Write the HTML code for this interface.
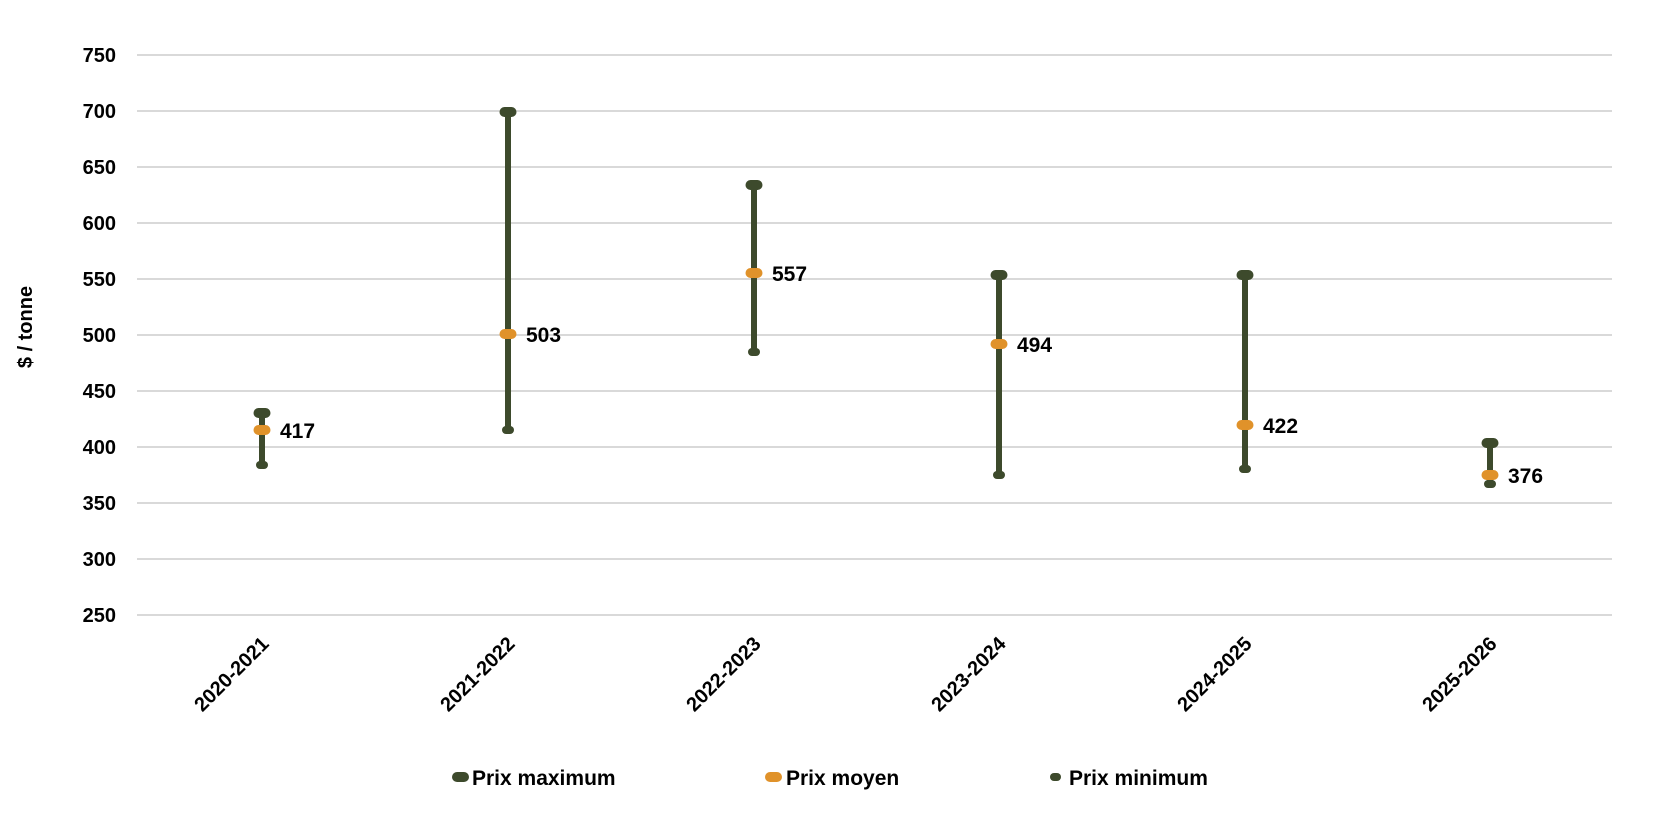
<!DOCTYPE html>
<html><head><meta charset="utf-8"><style>
html,body{margin:0;padding:0;background:#fff;}
svg{display:block;}
text{font-family:"Liberation Sans",sans-serif;font-weight:bold;fill:#000;}
</style></head><body>
<svg width="1654" height="822" viewBox="0 0 1654 822" xmlns="http://www.w3.org/2000/svg">
<g stroke="#d9d9d9" stroke-width="2">
<line x1="137" x2="1612" y1="55" y2="55"/>
<line x1="137" x2="1612" y1="111" y2="111"/>
<line x1="137" x2="1612" y1="167" y2="167"/>
<line x1="137" x2="1612" y1="223" y2="223"/>
<line x1="137" x2="1612" y1="279" y2="279"/>
<line x1="137" x2="1612" y1="335" y2="335"/>
<line x1="137" x2="1612" y1="391" y2="391"/>
<line x1="137" x2="1612" y1="447" y2="447"/>
<line x1="137" x2="1612" y1="503" y2="503"/>
<line x1="137" x2="1612" y1="559" y2="559"/>
<line x1="137" x2="1612" y1="615" y2="615"/>
</g>
<g font-size="20" text-anchor="end">
<text x="116" y="62">750</text>
<text x="116" y="118">700</text>
<text x="116" y="174">650</text>
<text x="116" y="230">600</text>
<text x="116" y="286">550</text>
<text x="116" y="342">500</text>
<text x="116" y="398">450</text>
<text x="116" y="454">400</text>
<text x="116" y="510">350</text>
<text x="116" y="566">300</text>
<text x="116" y="622">250</text>
</g>
<text font-size="20" transform="translate(32,327) rotate(-90)" text-anchor="middle">$ / tonne</text>
<g font-size="20" text-anchor="end">
<text transform="translate(270,645) rotate(-45)">2020-2021</text>
<text transform="translate(516,645) rotate(-45)">2021-2022</text>
<text transform="translate(762,645) rotate(-45)">2022-2023</text>
<text transform="translate(1007,645) rotate(-45)">2023-2024</text>
<text transform="translate(1253,645) rotate(-45)">2024-2025</text>
<text transform="translate(1498,645) rotate(-45)">2025-2026</text>
</g>
<g>
<line x1="262" x2="262" y1="413" y2="465" stroke="#3d4a2c" stroke-width="6"/>
<rect x="253.5" y="408" width="17" height="10" rx="5" fill="#3d4a2c"/>
<rect x="256" y="461" width="12" height="8" rx="4" fill="#3d4a2c"/>
<rect x="253.5" y="425" width="17" height="10" rx="5" fill="#e0922a"/>
<text x="280" y="438" font-size="21">417</text>

<line x1="508" x2="508" y1="111" y2="430" stroke="#3d4a2c" stroke-width="6"/>
<rect x="499.5" y="107" width="17" height="10" rx="5" fill="#3d4a2c"/>
<rect x="502" y="426" width="12" height="8" rx="4" fill="#3d4a2c"/>
<rect x="499.5" y="329" width="17" height="10" rx="5" fill="#e0922a"/>
<text x="526" y="342" font-size="21">503</text>

<line x1="754" x2="754" y1="184" y2="352" stroke="#3d4a2c" stroke-width="6"/>
<rect x="745.5" y="180" width="17" height="10" rx="5" fill="#3d4a2c"/>
<rect x="748" y="348" width="12" height="8" rx="4" fill="#3d4a2c"/>
<rect x="745.5" y="268" width="17" height="10" rx="5" fill="#e0922a"/>
<text x="772" y="281" font-size="21">557</text>

<line x1="999" x2="999" y1="274" y2="475" stroke="#3d4a2c" stroke-width="6"/>
<rect x="990.5" y="270" width="17" height="10" rx="5" fill="#3d4a2c"/>
<rect x="993" y="471" width="12" height="8" rx="4" fill="#3d4a2c"/>
<rect x="990.5" y="339" width="17" height="10" rx="5" fill="#e0922a"/>
<text x="1017" y="352" font-size="21">494</text>

<line x1="1245" x2="1245" y1="274" y2="469" stroke="#3d4a2c" stroke-width="6"/>
<rect x="1236.5" y="270" width="17" height="10" rx="5" fill="#3d4a2c"/>
<rect x="1239" y="465" width="12" height="8" rx="4" fill="#3d4a2c"/>
<rect x="1236.5" y="420" width="17" height="10" rx="5" fill="#e0922a"/>
<text x="1263" y="433" font-size="21">422</text>

<line x1="1490" x2="1490" y1="442" y2="486" stroke="#3d4a2c" stroke-width="6"/>
<rect x="1481.5" y="438" width="17" height="10" rx="5" fill="#3d4a2c"/>
<rect x="1484" y="480" width="12" height="8" rx="4" fill="#3d4a2c"/>
<rect x="1481.5" y="470" width="17" height="10" rx="5" fill="#e0922a"/>
<text x="1508" y="483" font-size="21">376</text>
</g>
<rect x="452" y="772" width="17" height="10" rx="5" fill="#3d4a2c"/>
<text x="472" y="785" font-size="21">Prix maximum</text>
<rect x="765" y="772" width="17" height="10" rx="5" fill="#e0922a"/>
<text x="786" y="785" font-size="21">Prix moyen</text>
<rect x="1050" y="773" width="11" height="8" rx="4" fill="#3d4a2c"/>
<text x="1069" y="785" font-size="21">Prix minimum</text>
</svg>
</body></html>
